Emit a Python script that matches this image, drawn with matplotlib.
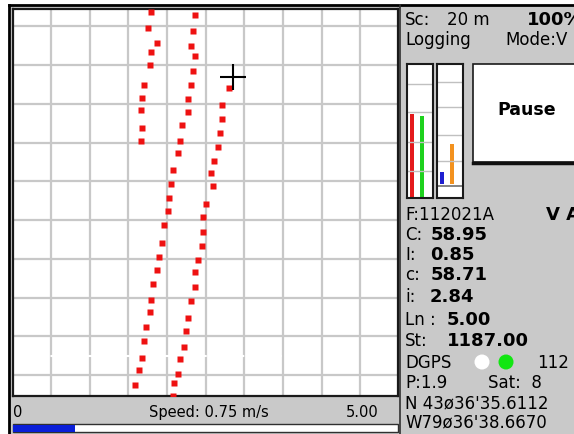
import numpy as np
import matplotlib
matplotlib.use("Agg")
from matplotlib import pyplot as plt
from matplotlib.patches import Rectangle, Circle

# track points (local east / north, map units)
left_e = [139, 136, 145, 139, 138, 132, 130, 129, 130, 129]
left_n = [384, 368, 353, 344, 331, 311, 298, 286, 268, 255]

mid_e = [183, 181, 179, 183, 181, 179, 176, 176, 170, 168, 166, 161, 159, 157,
         156, 152, 150, 147, 145, 141, 139, 138, 134, 132, 130, 127, 123]
mid_n = [381, 365, 350, 340, 325, 311, 297, 284, 271, 255, 243, 226, 212, 198,
         185, 171, 153, 139, 126, 112, 96, 84, 69, 55, 38, 26, 11]

right_e = [217, 210, 210, 208, 206, 202, 199, 201, 194, 191, 191, 190, 186, 183,
           183, 179, 176, 174, 172, 168, 166, 162, 161]
right_n = [308, 291, 277, 263, 249, 235, 223, 210, 192, 179, 164, 150, 136, 124,
           109, 95, 78, 65, 49, 37, 22, 13, 0]

cursor_e, cursor_n = 221, 319

# signal gauges
gauge1_levels = [84, 82]
gauge1_colors = ["#e41a1c", "#1ed21e"]
gauge2_levels = [12, 40]
gauge2_colors = ["#1f1fd0", "#f3921f"]
progress = 0.16

W, H = 574, 435
fig = plt.figure(figsize=(W / 100, H / 100), dpi=100)
fig.patch.set_facecolor("white")

# background axes in pixel units
bg = fig.add_axes([0, 0, 1, 1])
bg.set_xlim(0, W)
bg.set_ylim(H, 0)
bg.axis("off")
panel = "#c9c9c9"
bg.add_patch(Rectangle((9, 6), W, H, facecolor=panel, edgecolor="none"))
bg.plot([9, W], [6, 6], color="black", lw=2)
bg.plot([9, 9], [6, H], color="black", lw=2)
bg.plot([399.5, 399.5], [6, H], color="#303030", lw=1.2)

def px_axes(x0, y0, x1, y1):
    return fig.add_axes([x0 / W, 1 - y1 / H, (x1 - x0) / W, (y1 - y0) / H])

# map
ax = px_axes(12.5, 10, 398, 397)
ax.set_facecolor("white")
ax.set_xlim(0.5, 386)
ax.set_ylim(0, 387)
ax.set_xticks(np.arange(39, 386, 38.65))
ax.set_yticks(np.arange(21, 387, 38.75))
ax.grid(True, color="#c8c8c8", lw=1.6)
ax.tick_params(length=0, labelbottom=False, labelleft=False)
for s in ax.spines.values():
    s.set_color("#1a1a1a")
    s.set_linewidth(1.6)
ax.axhline(40, color="white", lw=1.5, ls=(0, (3, 3)), zorder=2)
for e, n in [(left_e, left_n), (mid_e, mid_n), (right_e, right_n)]:
    ax.plot(e, n, ls="none", marker="s", ms=5, color="#ee1111", mec="none", zorder=3)
ax.plot(cursor_e, cursor_n, marker="+", ms=19, mew=1.5, color="black", zorder=4)

# status bar
bg.text(13, 413, "0", fontsize=10.5, va="center")
bg.text(209, 413, "Speed: 0.75 m/s", fontsize=10.5, va="center", ha="center")
bg.text(379, 413, "5.00", fontsize=10.5, va="center", ha="right")
bg.add_patch(Rectangle((12.5, 425), 385.5, 8, facecolor="white", edgecolor="#303030", lw=1))
bg.add_patch(Rectangle((13, 425.5), 385 * progress, 7, facecolor="#0a1ed8", edgecolor="none"))

# gauges
def gauge(x0, levels, colors, lines, base=0, baseline=None):
    g = px_axes(x0, 65, x0 + 26, 199)
    g.set_facecolor("white")
    g.set_xlim(0, 26)
    g.set_ylim(0, 134)
    for y in lines:
        g.axhline(y, color="#c0c0c0", lw=1)
    if baseline is not None:
        g.axhline(baseline, color="#707070", lw=1.2)
    g.bar([5, 15], levels, bottom=base, width=3.4, color=colors)
    g.set_xticks([])
    g.set_yticks([])
    for s in g.spines.values():
        s.set_color("#1a1a1a")
        s.set_linewidth(1.5)

gauge(407, gauge1_levels, gauge1_colors, [114, 86, 56, 27])
gauge(437, gauge2_levels, gauge2_colors, [116, 91, 63, 37], base=14, baseline=12)

# pause button
bg.add_patch(Rectangle((473, 65), 120, 98, facecolor="white", edgecolor="#1a1a1a", lw=1.2))
bg.plot([473, W], [163.5, 163.5], color="#101010", lw=2.5)
bg.text(527, 110, "Pause", fontsize=12.5, fontweight="bold", ha="center", va="center")

# info text
fs = 12
bfs = 13
bg.text(405, 20, "Sc:", fontsize=fs, va="center")
bg.text(447, 20, "20 m", fontsize=fs, va="center")
bg.text(527, 20, "100%", fontsize=bfs, fontweight="bold", va="center")
bg.text(405, 40, "Logging", fontsize=fs, va="center")
bg.text(505, 40, "Mode:V", fontsize=fs, va="center")

bg.text(405, 215, "F:112021A", fontsize=fs, va="center")
bg.text(546, 215, "V A", fontsize=bfs, fontweight="bold", va="center")
rows = [("C:", "58.95", 235, 431), ("I:", "0.85", 255, 430), ("c:", "58.71", 275, 431),
        ("i:", "2.84", 297, 430), ("Ln :", "5.00", 320, 447), ("St:", "1187.00", 341, 447)]
for lab, val, y, xv in rows:
    bg.text(405, y, lab, fontsize=fs, va="center")
    bg.text(xv, y, val, fontsize=bfs, fontweight="bold", va="center")

bg.text(405, 363, "DGPS", fontsize=fs, va="center")
bg.add_patch(Circle((482, 363), 7.5, facecolor="white", edgecolor="none"))
bg.add_patch(Circle((506, 363), 7.5, facecolor="#12e612", edgecolor="none"))
bg.text(537, 363, "112", fontsize=fs, va="center")
bg.text(405, 383, "P:1.9", fontsize=fs, va="center")
bg.text(488, 383, "Sat:  8", fontsize=fs, va="center")
bg.text(405, 403, "N 43ø36'35.6112", fontsize=fs, va="center")
bg.text(405, 422, "W79ø36'38.6670", fontsize=fs, va="center")

fig.savefig("out.png", dpi=100, facecolor=fig.get_facecolor())
